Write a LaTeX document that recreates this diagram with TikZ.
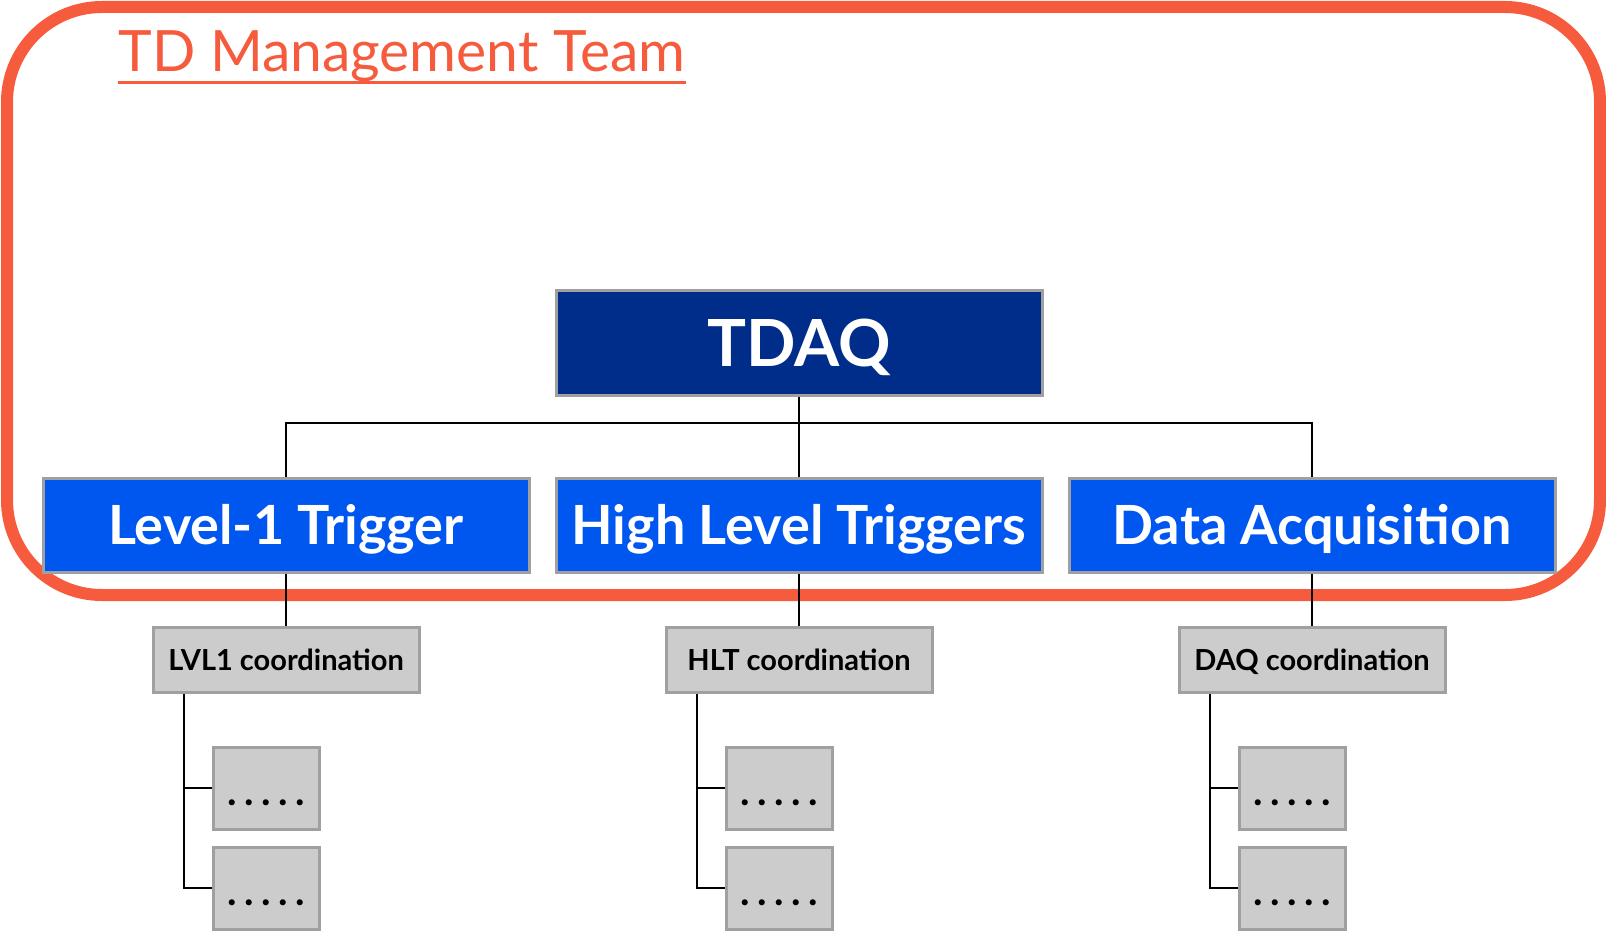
\documentclass[tikz,border=0pt]{standalone}
\usepackage{fontspec}
\setmainfont{Lato}
\newfontfamily\dotfont[LetterSpace=19]{Lato}
\definecolor{frameorange}{RGB}{245,91,60}
\definecolor{tdaqblue}{RGB}{0,45,138}
\definecolor{groupblue}{RGB}{0,87,240}
\definecolor{boxgray}{RGB}{204,204,204}
\definecolor{edgegray}{RGB}{160,160,160}
\begin{document}
\begin{tikzpicture}[x=.5pt,y=-.5pt]
\tikzstyle{every node}=[inner sep=0pt]
\tikzstyle{topbox}=[draw=edgegray, line width=1.5pt, fill=tdaqblue, text=white, minimum width=243pt, minimum height=52.5pt, font=\bfseries\fontsize{32.5}{39}\selectfont, text height=23.5pt, text depth=0pt]
\tikzstyle{groupbox}=[draw=edgegray, line width=1.5pt, fill=groupblue, text=white, minimum width=243pt, minimum height=47pt, font=\bfseries\fontsize{27}{32}\selectfont, text height=19.5pt, text depth=0pt]
\tikzstyle{coordbox}=[draw=edgegray, line width=1.5pt, fill=boxgray, minimum width=133pt, minimum height=32.5pt, font=\bfseries\fontsize{14.5}{17}\selectfont, text height=10.5pt, text depth=0pt]
\tikzstyle{itembox}=[draw=edgegray, line width=1.5pt, fill=boxgray, minimum width=53pt, minimum height=41pt, font=\dotfont\bfseries\fontsize{20}{24}\selectfont, text height=17pt, text depth=0pt]
\tikzstyle{link}=[line width=1pt]
\useasboundingbox (0,0) rectangle (1606,931);
\draw[frameorange, line width=6pt, rounded corners=47.5pt] (7,7) rectangle (1600,595);
\draw (118,72) node (title) [anchor=base west, text=frameorange, font=\fontsize{28.5}{34}\selectfont] {TD Management Team};
\draw[frameorange, line width=1.5pt] ([yshift=-5.5pt]title.base west) -- ([yshift=-5.5pt]title.base east);
\draw (799,342.5) node (tdaq) [topbox] {TDAQ};
\draw (286,525) node (lvl1) [groupbox] {Level-1 Trigger};
\draw (799,525) node (hlt) [groupbox] {High Level Triggers};
\draw (1312,525) node (daq) [groupbox] {Data Acquisition};
\draw (286,659.5) node (lvl1c) [coordbox] {LVL1 coordination};
\draw (799,659.5) node (hltc) [coordbox] {HLT coordination};
\draw (1312,659.5) node (daqc) [coordbox] {DAQ coordination};
\draw (266,788) node (lvl1a) [itembox] {.....};
\draw (266,888) node (lvl1b) [itembox] {.....};
\draw (779,788) node (hlta) [itembox] {.....};
\draw (779,888) node (hltb) [itembox] {.....};
\draw (1292,788) node (daqa) [itembox] {.....};
\draw (1292,888) node (daqb) [itembox] {.....};
\coordinate (bus) at (799,423);
\draw[link] (lvl1.north) |- (bus) -| (daq.north);
\draw[link] (tdaq.south) -- (hlt.north);
\draw[link] (lvl1.south) -- (lvl1c.north);
\draw[link] (hlt.south) -- (hltc.north);
\draw[link] (daq.south) -- (daqc.north);
\draw[link] (lvl1a.west) -| ([xshift=16pt]lvl1c.south west);
\draw[link] (lvl1b.west) -| ([xshift=16pt]lvl1c.south west);
\draw[link] (hlta.west) -| ([xshift=16pt]hltc.south west);
\draw[link] (hltb.west) -| ([xshift=16pt]hltc.south west);
\draw[link] (daqa.west) -| ([xshift=16pt]daqc.south west);
\draw[link] (daqb.west) -| ([xshift=16pt]daqc.south west);
\end{tikzpicture}
\end{document}
